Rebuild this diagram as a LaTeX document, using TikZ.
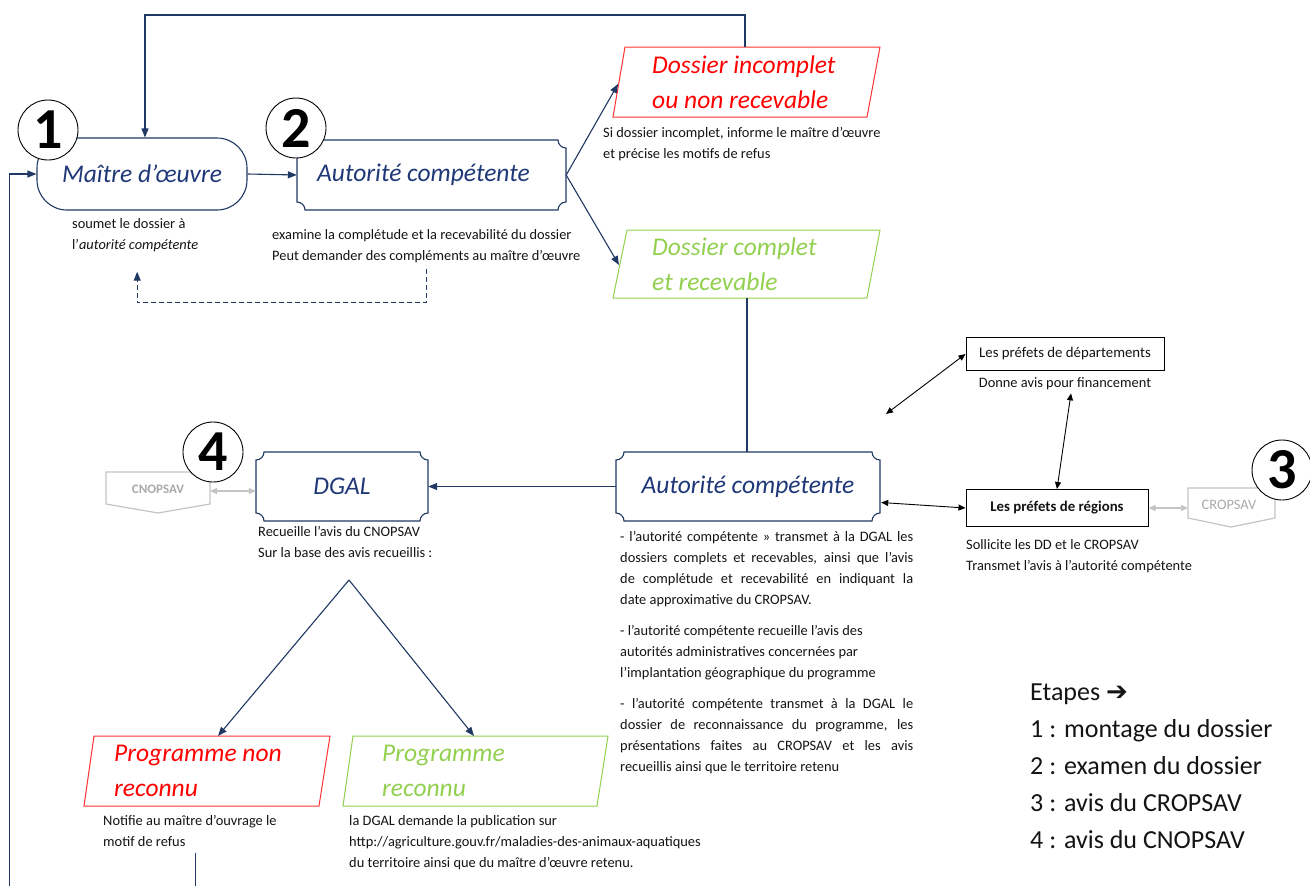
\documentclass[tikz,border=0pt]{standalone}
\usepackage{fontspec}
\setmainfont{Carlito}
\newfontfamily\dejavu{DejaVu Sans}
\usetikzlibrary{arrows.meta,calc}
\definecolor{navy}{RGB}{32,56,100}
\definecolor{lblue}{RGB}{31,56,120}
\definecolor{myred}{RGB}{255,0,0}
\definecolor{redline}{RGB}{255,50,50}
\definecolor{mygreen}{RGB}{146,208,80}
\definecolor{grayline}{RGB}{196,196,196}
\definecolor{graytxt}{RGB}{170,170,170}
\definecolor{txt}{RGB}{20,20,20}
\newcommand\plaque[4]{\draw[boxline] (#1+8,#2) -- (#3-8,#2) .. controls (#3-8,#2+4.4) and (#3-4.4,#2+8) .. (#3,#2+8) -- (#3,#4-8) .. controls (#3-4.4,#4-8) and (#3-8,#4-4.4) .. (#3-8,#4) -- (#1+8,#4) .. controls (#1+8,#4-4.4) and (#1+4.4,#4-8) .. (#1,#4-8) -- (#1,#2+8) .. controls (#1+4.4,#2+8) and (#1+8,#2+4.4) .. (#1+8,#2) -- cycle;}
\begin{document}
\begin{tikzpicture}[x=1pt,y=-1pt,
  boxline/.style={draw=navy,line width=1.1pt},
  conn/.style={draw=navy,line width=1.1pt},
  navarrow/.style={-{Triangle[length=9pt,width=7pt]}},
  blk/.style={draw=black,line width=0.9pt,{Triangle[length=7pt,width=6pt]}-{Triangle[length=7pt,width=6pt]}},
  grayarr/.style={draw=grayline,line width=1.3pt,{Triangle[length=7pt,width=6pt]}-{Triangle[length=7pt,width=6pt]}},
  lbl/.style={font=\fontsize{25.5}{35}\selectfont\itshape,text=lblue},
  biglbl/.style={font=\fontsize{25.5}{35}\selectfont\itshape,anchor=west,align=left,inner sep=0pt},
  small/.style={font=\fontsize{14.4}{21}\selectfont,text=txt,inner sep=0pt,anchor=north west,align=left},
  numc/.style={circle,draw=black,line width=0.9pt,fill=white,minimum size=60pt,inner sep=0pt,font=\fontsize{58}{58}\selectfont\bfseries},
  blackbox/.style={draw=black,line width=1pt,inner sep=0pt,text=txt},
  graybox/.style={draw=grayline,line width=1.2pt}
]
\useasboundingbox[fill=white] (0,0) rectangle (1310,886);

% --- step 1 : maitre d'oeuvre
\node[boxline,rounded corners=30pt,minimum width=210pt,minimum height=72pt,lbl] (mo) at (142,174) {Maître d’œuvre};
\node[small] (motxt) at (72,218) {soumet le dossier à\\l'\textit{autorité compétente}};

% --- step 2 : autorite competente
\plaque{297}{140}{566}{210}
\node[lbl,minimum width=269pt,minimum height=70pt,inner sep=0pt] (ac1) at (431.5,175) {\hspace*{-16pt}Autorité compétente};
\node[small] (ac1txt) at (272,229) {examine la complétude et la recevabilité du dossier\\Peut demander des compléments au maître d’œuvre};

\draw[conn,navarrow] (mo.east) -- (ac1.west);
\draw[conn,navarrow,dash pattern=on 5pt off 3pt] ($(ac1txt.south)+(0,6)$) -- ++(0,34) -| ($(motxt.south)+(2,20)$);

% --- dossier incomplet
\draw[draw=redline,line width=1pt] (625,47) -- (880,47) -- (867,117) -- (613,117) -- cycle;
\node[biglbl,text=myred] (din) at (652,82) {Dossier incomplet\\ou non recevable};
\coordinate (dinL) at (618,84);
\coordinate (dinT) at (745,47);
\node[small] (dintxt) at (603,127) {Si dossier incomplet, informe le maître d’œuvre\\et précise les motifs de refus};

% --- dossier complet
\draw[draw=mygreen,line width=1pt] (627,230) -- (880,230) -- (867,298) -- (613,298) -- cycle;
\node[biglbl,text=mygreen] (dco) at (652,264) {Dossier complet\\et recevable};
\coordinate (dcoL) at (619,265);
\coordinate (dcoB) at (747,298);

\draw[conn,navarrow] (ac1.east) -- (dinL);
\draw[conn,navarrow] (ac1.east) -- (dcoL);
\draw[conn,navarrow] (dinT) -- ++(0,-32) -| ($(mo.north)+(3,0)$);

% --- autorite competente 2
\plaque{616}{452}{880}{521}
\node[lbl,minimum width=264pt,minimum height=69pt,inner sep=0pt] (ac2) at (748,486.5) {Autorité compétente};
\draw[conn] (dcoB) -- (dcoB |- ac2.north);
\node[small] (ac2txt) at (620,531) {%
\makebox[293pt][s]{- l'autorité compétente » transmet à la DGAL les}\\
\makebox[293pt][s]{dossiers complets et recevables, ainsi que l'avis}\\
\makebox[293pt][s]{de complétude et recevabilité en indiquant la}\\
date approximative du CROPSAV.\\[10pt]
- l'autorité compétente recueille l’avis des\\
autorités administratives concernées par\\
l’implantation géographique du programme\\[10pt]
\makebox[293pt][s]{- l’autorité compétente transmet à la DGAL le}\\
\makebox[293pt][s]{dossier de reconnaissance du programme, les}\\
\makebox[293pt][s]{présentations faites au CROPSAV et les avis}\\
recueillis ainsi que le territoire retenu};

% --- DGAL
\plaque{256}{452}{428}{521}
\node[lbl,minimum width=172pt,minimum height=69pt,inner sep=0pt] (dgal) at (342,486.5) {DGAL};
\draw[conn,navarrow] (ac2.west) -- (dgal.east);
\node[small] (dgaltxt) at (258,526) {Recueille l’avis du CNOPSAV\\Sur la base des avis recueillis :};

% --- CNOPSAV
\draw[graybox] (106,472) -- (210,472) -- (210,504) -- (158,513) -- (106,504) -- cycle;
\node[text=graytxt,font=\fontsize{13}{15}\selectfont\bfseries,inner sep=0pt] (cno) at (158,489) {CNOPSAV};
\coordinate (cnoR) at (210,491);
\draw[grayarr] (cnoR) -- (cnoR -| dgal.west);

% --- programme non reconnu / reconnu
\coordinate (apex) at (349,580);
\draw[draw=redline,line width=1pt] (94,736) -- (330,736) -- (319,806) -- (84,806) -- cycle;
\node[biglbl,text=myred] (pnr) at (114,771) {Programme non\\reconnu};
\coordinate (pnrT) at (218,736);
\draw[draw=mygreen,line width=1pt] (353,736) -- (608,736) -- (597,806) -- (343,806) -- cycle;
\node[biglbl,text=mygreen] (prg) at (382,771) {Programme\\reconnu};
\coordinate (prgT) at (474,736);
\draw[conn,navarrow] (apex) -- (pnrT);
\draw[conn,navarrow] (apex) -- (prgT);

\node[small] (nrtxt) at (103,815) {Notifie au maître d’ouvrage le\\motif de refus};
\node[small] (prgtxt) at (349,815) {la DGAL demande la publication sur\\http://agriculture.gouv.fr/maladies-des-animaux-aquatiques\\du territoire ainsi que du maître d’œuvre retenu.};
\draw[conn,navarrow] ($(nrtxt.south)+(6,6)$) -- ++(0,45) -| ($(mo.west)+(-27,0)$) -- (mo.west);

% --- prefets
\node[blackbox,minimum width=198pt,minimum height=33pt,font=\fontsize{14.8}{17}\selectfont] (pd) at (1065,354) {Les préfets de départements};
\node[inner sep=0pt,text=txt,font=\fontsize{14.4}{17}\selectfont] (pdtxt) at (1065,384) {Donne avis pour financement};
\node[blackbox,minimum width=182pt,minimum height=37pt,font=\fontsize{14.8}{17}\selectfont\bfseries] (preg) at (1057,508) {Les préfets de régions};
\node[small] (pregtxt) at (966,539) {Sollicite les DD et le CROPSAV\\Transmet l’avis à l’autorité compétente};
\coordinate (free) at (886,414);
\draw[blk] (free) -- (pd.west);
\draw[blk] ($(pdtxt.south)+(6,3)$) -- (preg.north);
\draw[blk] ($(ac2.east)+(1,16)$) -- (preg.west);

% --- CROPSAV
\draw[graybox] (1188,488) -- (1275,488) -- (1275,518) -- (1231,527) -- (1188,518) -- cycle;
\node[text=graytxt,font=\fontsize{14.4}{17}\selectfont,inner sep=0pt] (cro) at (1229,505) {CROPSAV};
\coordinate (croL) at (1188,508);
\draw[grayarr] (preg.east) -- (croL);

% --- step circles
\node[numc] (c1) at (48,130) {1};
\node[numc] (c2) at (296,128) {2};
\node[numc] (c4) at (213,452) {4};
\node[numc] (c3) at (1282,470) {3};

% --- legend
\node[anchor=north west,inner sep=0pt,align=left,text=txt,font=\fontsize{26}{37}\selectfont] (leg) at (1030,684) {Etapes {\dejavu\bfseries ➔}\\1 : montage du dossier\\2 : examen du dossier\\3 : avis du CROPSAV\\4 : avis du CNOPSAV};
\end{tikzpicture}
\end{document}
